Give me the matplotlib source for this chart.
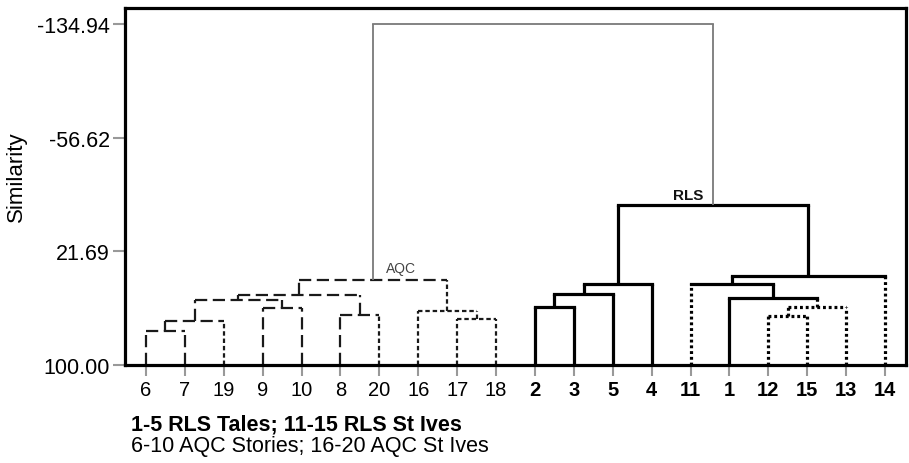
import matplotlib
matplotlib.use("Agg")
import matplotlib.pyplot as plt

plt.rcParams['font.family'] = ['Liberation Sans', 'DejaVu Sans']

# ---- data ----
leaf_labels = ['6', '7', '19', '9', '10', '8', '20', '16', '17', '18',
               '2', '3', '5', '4', '11', '1', '12', '15', '13', '14']
# merges: (left node, right node, similarity); leaves are 0..19, new nodes 20+
merge_left = [0, 20, 3, 21, 5, 23, 8, 7, 25, 10, 29, 30, 16, 32, 15, 14, 35, 31, 28]
merge_right = [1, 2, 4, 22, 6, 24, 9, 26, 27, 11, 12, 13, 17, 18, 33, 34, 19, 36, 37]
merge_height = [76.9, 70.0, 60.9, 55.1, 65.4, 51.7, 68.4, 62.7, 41.4,
                60.2, 51.2, 44.4, 66.1, 60.2, 54.0, 44.4, 38.4, -10.1, -134.94]
y_ticks = [-134.94, -56.62, 21.69, 100.00]
cluster_names = ['AQC', 'RLS']
cluster_nodes = [28, 37]
legend_lines = ['1-5 RLS Tales; 11-15 RLS St Ives', '6-10 AQC Stories; 16-20 AQC St Ives']


def group_of(lab):
    v = int(lab)
    if 1 <= v <= 5:
        return 'T'
    if 11 <= v <= 15:
        return 'V'
    if 6 <= v <= 10:
        return 'S'
    return 'I'


styles = {
    'S': dict(color='#1a1a1a', lw=1.6, ls=(0, (5.5, 2.5))),
    'I': dict(color='#1a1a1a', lw=1.6, ls=(0, (2.0, 1.3))),
    'T': dict(color='black', lw=2.3, ls='-'),
    'V': dict(color='black', lw=2.3, ls=(0, (0.9, 0.9))),
    'root': dict(color='#7a7a7a', lw=1.3, ls='-'),
}

fig = plt.figure(figsize=(9.09, 4.64), dpi=100)
ax = fig.add_axes([0.1375, 0.2112, 0.8592, 0.7694])

n = len(leaf_labels)
xpos = {i: float(i) for i in range(n)}
ypos = {i: 100.0 for i in range(n)}
leafset = {i: {group_of(leaf_labels[i])} for i in range(n)}
style_of = {i: group_of(leaf_labels[i]) for i in range(n)}
root = n + len(merge_left) - 1

for k, (a, b, h) in enumerate(zip(merge_left, merge_right, merge_height)):
    node = n + k
    g = leafset[a] | leafset[b]
    leafset[node] = g
    if node == root:
        st = 'root'
    elif len(g) == 1:
        st = next(iter(g))
    elif g <= {'S', 'I'}:
        st = 'S'
    else:
        st = 'T'
    style_of[node] = st
    xpos[node] = (xpos[a] + xpos[b]) / 2
    ypos[node] = h
    for c in (a, b):
        cs = styles['root'] if node == root else styles[style_of[c]]
        ax.plot([xpos[c], xpos[c]], [ypos[c], h], color=cs['color'], lw=cs['lw'],
                ls=cs['ls'], solid_capstyle='butt', dash_capstyle='butt', zorder=2)
    hs = styles[st]
    ax.plot([xpos[a], xpos[b]], [h, h], color=hs['color'], lw=hs['lw'], ls=hs['ls'],
            solid_capstyle='projecting', dash_capstyle='butt', zorder=2)

# cluster labels
ax.annotate(cluster_names[0], (xpos[cluster_nodes[0]], ypos[cluster_nodes[0]]),
            xytext=(20, 8.5), textcoords='offset points', ha='center', va='center',
            fontsize=10, color='#444444')
ax.annotate(cluster_names[1], (xpos[cluster_nodes[1]], ypos[cluster_nodes[1]]),
            xytext=(-18, 7.5), textcoords='offset points', ha='center', va='center',
            fontsize=11, fontweight='bold', color='#111111')

ax.set_xlim(-0.54, n - 1 + 0.54)
ax.set_ylim(100, -145.9)

ax.set_yticks(y_ticks)
ax.set_yticklabels([f'{v:.2f}' for v in y_ticks], fontsize=15.5)
ax.set_xticks(range(n))
ax.set_xticklabels(leaf_labels, fontsize=14.5)
for lab, t in zip(leaf_labels, ax.get_xticklabels()):
    if group_of(lab) in ('T', 'V'):
        t.set_fontweight('bold')

ax.tick_params(axis='y', direction='out', length=9, width=1.5, color='#999999', pad=2)
ax.tick_params(axis='x', direction='out', length=8, width=1.5, color='#999999', pad=3)
for sp in ax.spines.values():
    sp.set_linewidth(2.3)
    sp.set_color('black')

ax.set_ylabel('Similarity', fontsize=16)
ax.yaxis.set_label_coords(-0.1255, 0.53)

fig.text(131 / 909, 1 - 425 / 464, legend_lines[0], fontsize=15.5, fontweight='bold',
         ha='left', va='center')
fig.text(131 / 909, 1 - 447 / 464, legend_lines[1], fontsize=15.5,
         ha='left', va='center')

fig.savefig('out.png', dpi=100)
